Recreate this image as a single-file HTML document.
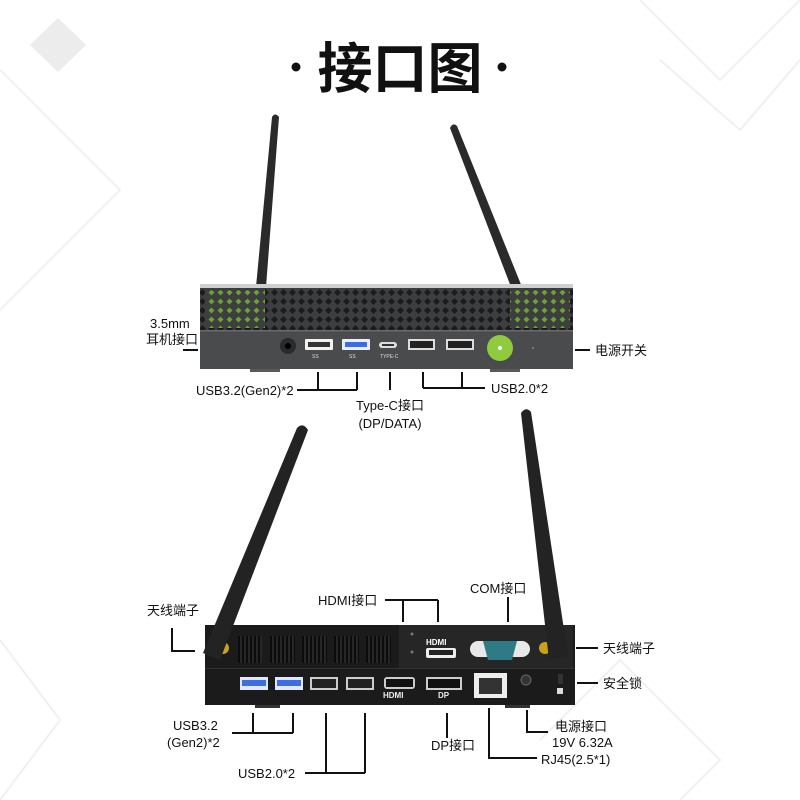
<!DOCTYPE html>
<html><head><meta charset="utf-8"><style>
html,body{margin:0;padding:0;background:#fff}
svg{display:block}
text{font-family:"Liberation Sans","Noto Sans CJK SC",sans-serif;fill:#111}
</style></head><body>
<svg width="800" height="800" viewBox="0 0 800 800" xmlns="http://www.w3.org/2000/svg">
<defs>
<pattern id="perf" x="0" y="0" width="9" height="9" patternUnits="userSpaceOnUse">
<rect width="9" height="9" fill="#3d3e40"/><path d="M4.5 1 L8 4.5 L4.5 8 L1 4.5Z" fill="#1c1c1d"/>
</pattern>
<pattern id="perfg" x="0" y="0" width="9" height="9" patternUnits="userSpaceOnUse">
<rect width="9" height="9" fill="#3d3e40"/><path d="M4.5 1.5 L7.5 4.5 L4.5 7.5 L1.5 4.5Z" fill="#7fc23c"/>
</pattern>
<pattern id="vent" width="4" height="4" patternUnits="userSpaceOnUse"><rect width="4" height="4" fill="#0c0c0c"/><rect width="2" height="4" fill="#262626"/></pattern>
</defs>
<g fill="none" stroke="#f0f0f0" stroke-width="2">
<path d="M0 70 L120 190 L0 310"/><path d="M640 0 L720 80 L800 0"/><path d="M660 60 L740 130 L800 60"/>
<path d="M540 740 L620 660 L720 760 L680 800"/><path d="M0 640 L60 720 L0 800"/>
</g>
<path d="M30 45 L58 18 L86 45 L58 72Z" fill="#ececec"/>
<text x="400" y="88" font-size="55" font-weight="bold" text-anchor="middle">接口图</text>
<circle cx="296" cy="67" r="4.5" fill="#111"/><circle cx="502" cy="67" r="4.5" fill="#111"/>

<!-- TOP DEVICE -->
<path d="M272 117 Q275 112 279 117 L266 287 L256 287Z" fill="#2a2a2a"/>
<path d="M450 128 Q453 122 457 126 L522 287 L511 287Z" fill="#2a2a2a"/>
<rect x="200" y="284" width="373" height="4" fill="#cfcfcf"/>
<rect x="200" y="288" width="373" height="42" fill="url(#perf)"/>
<rect x="205" y="290" width="60" height="38" fill="url(#perfg)" opacity="0.8"/>
<rect x="510" y="290" width="60" height="38" fill="url(#perfg)" opacity="0.8"/>
<rect x="200" y="330" width="373" height="39" fill="#4a4b4d"/>
<rect x="200" y="330" width="373" height="1.5" fill="#6a6a6a"/>
<rect x="250" y="369" width="30" height="3" fill="#5a5a5a"/><rect x="490" y="369" width="30" height="3" fill="#5a5a5a"/>
<circle cx="288" cy="346" r="8" fill="#2a2a2a"/><circle cx="288" cy="346" r="3" fill="#000"/>
<rect x="305" y="339" width="28" height="11" rx="1" fill="#f2f2f2"/><rect x="308" y="342" width="22" height="5" fill="#333"/>
<rect x="342" y="339" width="28" height="11" rx="1" fill="#e9eefc"/><rect x="345" y="342" width="22" height="5" fill="#3a6fe0"/>
<rect x="379" y="342" width="18" height="6" rx="3" fill="#ddd"/><rect x="382" y="344" width="12" height="2" fill="#333"/>
<rect x="408" y="339" width="27" height="11" fill="#ddd"/><rect x="410" y="341" width="23" height="7" fill="#222"/>
<rect x="446" y="339" width="28" height="11" fill="#ddd"/><rect x="448" y="341" width="24" height="7" fill="#222"/>
<g font-size="5"><text x="312" y="358" style="fill:#ddd">SS</text><text x="349" y="358" style="fill:#ddd">SS</text><text x="380" y="358" style="fill:#ddd">TYPE-C</text></g>
<circle cx="500" cy="348" r="13" fill="#8fca3f"/><circle cx="500" cy="348" r="2" fill="#fff"/>
<circle cx="533" cy="348" r="1" fill="#888"/>
<g stroke="#111" stroke-width="2" fill="none">
<path d="M183 350 H198"/><path d="M575 350 H590"/>
<path d="M318 372 V390 M357 372 V390 M297 390 H357"/>
<path d="M390 372 V390"/>
<path d="M423 372 V388 M462 372 V388 M423 388 H485"/>
</g>
<g font-size="13">
<text x="150" y="328">3.5mm</text><text x="146" y="344">耳机接口</text>
<text x="595" y="355">电源开关</text>
<text x="196" y="395">USB3.2(Gen2)*2</text>
<text x="491" y="393">USB2.0*2</text>
<text x="390" y="410" text-anchor="middle">Type-C接口</text>
<text x="390" y="428" text-anchor="middle">(DP/DATA)</text>
</g>

<!-- BOTTOM DEVICE -->
<rect x="205" y="625" width="370" height="80" fill="#1b1b1b"/>
<rect x="399" y="625" width="174" height="43" fill="#262626"/>
<rect x="205" y="668" width="370" height="1" fill="#333"/>
<g fill="url(#vent)">
<rect x="238" y="636" width="24" height="27"/><rect x="270" y="636" width="25" height="27"/><rect x="302" y="636" width="25" height="27"/><rect x="334" y="636" width="25" height="27"/><rect x="366" y="636" width="25" height="27"/>
</g>
<circle cx="412" cy="634" r="1.5" fill="#777"/><circle cx="412" cy="652" r="1.5" fill="#777"/>
<rect x="426" y="648" width="30" height="10" rx="2" fill="#eee"/><rect x="429" y="650" width="24" height="5" fill="#222"/>
<text x="426" y="645" font-size="8" font-weight="bold" style="fill:#fff">HDMI</text>
<rect x="470" y="641" width="60" height="16" rx="8" fill="#e8e8e8"/>
<path d="M483 641 H517 L512 660 H488Z" fill="#2f7a86"/>
<circle cx="545" cy="648" r="6" fill="#c9a21c"/><circle cx="223" cy="648" r="6" fill="#c9a21c"/>
<rect x="240" y="677" width="28" height="13" fill="#dfe8ff"/><rect x="242" y="680" width="24" height="6" fill="#3d6fe0"/>
<rect x="275" y="677" width="28" height="13" fill="#dfe8ff"/><rect x="277" y="680" width="24" height="6" fill="#3d6fe0"/>
<rect x="310" y="677" width="28" height="13" fill="#ccc"/><rect x="312" y="679" width="24" height="9" fill="#222"/>
<rect x="346" y="677" width="28" height="13" fill="#ccc"/><rect x="348" y="679" width="24" height="9" fill="#222"/>
<rect x="384" y="677" width="31" height="12" rx="3" fill="#ccc"/><rect x="386" y="679" width="27" height="8" fill="#111"/>
<rect x="426" y="677" width="36" height="13" fill="#ccc"/><rect x="428" y="679" width="32" height="9" fill="#111"/>
<text x="383" y="698" font-size="8" font-weight="bold" style="fill:#eee">HDMI</text>
<text x="438" y="698" font-size="8" font-weight="bold" style="fill:#eee">DP</text>
<rect x="474" y="673" width="33" height="25" fill="#eee"/><rect x="479" y="678" width="23" height="16" fill="#333"/>
<circle cx="526" cy="680" r="5" fill="#333" stroke="#666"/>
<rect x="558" y="674" width="5" height="10" fill="#333"/><rect x="557" y="688" width="6" height="6" fill="#ddd"/>
<rect x="255" y="705" width="25" height="3" fill="#333"/><rect x="505" y="705" width="25" height="3" fill="#333"/>
<path d="M297 428 Q303 422 308 430 L220 660 L203 653Z" fill="#232323"/>
<path d="M521 413 Q526 406 531 412 L568 656 L549 660Z" fill="#232323"/>
<g stroke="#111" stroke-width="2" fill="none">
<path d="M172 628 V651 H195"/>
<path d="M576 648 H598"/><path d="M577 683 H598"/>
<path d="M385 600 H438 M403 600 V622 M438 600 V622"/>
<path d="M508 597 V622"/>
<path d="M253 713 V733 M293 713 V733 M232 733 H293"/>
<path d="M326 713 V773 M365 713 V773 M305 773 H365"/>
<path d="M447 713 V738"/>
<path d="M489 708 V758 H537"/>
<path d="M527 710 V732 H548"/>
</g>
<g font-size="13">
<text x="147" y="615">天线端子</text>
<text x="603" y="653">天线端子</text>
<text x="603" y="688">安全锁</text>
<text x="318" y="605">HDMI接口</text>
<text x="470" y="593">COM接口</text>
<text x="173" y="730">USB3.2</text>
<text x="167" y="747">(Gen2)*2</text>
<text x="238" y="778">USB2.0*2</text>
<text x="431" y="750">DP接口</text>
<text x="555" y="731">电源接口</text>
<text x="552" y="747">19V 6.32A</text>
<text x="541" y="764">RJ45(2.5*1)</text>
</g>
</svg>
</body></html>
